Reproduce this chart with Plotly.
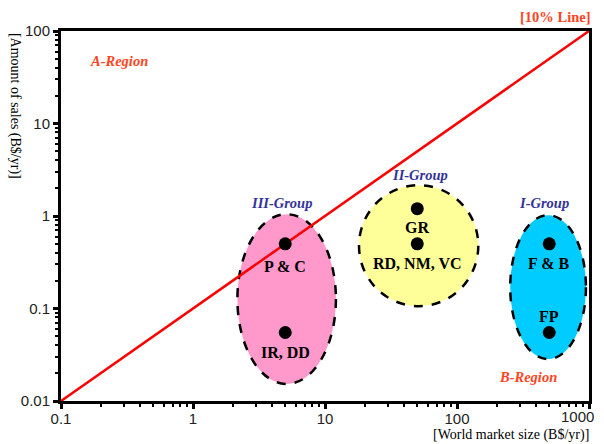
import numpy as np
import plotly.graph_objects as go

# 10% line: sales = 0.1 x market size
line_x = [0.1, 1000]
line_y = [0.01, 100]

# Individual fields
point_labels = ["P & C", "IR, DD", "GR", "RD, NM, VC", "F & B", "FP"]
market_size = [5, 5, 50, 50, 500, 500]
sales = [0.5, 0.055, 1.2, 0.5, 0.5, 0.055]

# Groups drawn as dashed ellipses (extent in data units)
group_names = ["III-Group", "II-Group", "I-Group"]
group_x_min = [2.17, 18.1, 253]
group_x_max = [12.1, 145, 948]
group_y_min = [0.0153, 0.106, 0.0284]
group_y_max = [1.045, 2.15, 1.02]

x_tick_vals = [0.1, 1, 10, 100, 1000]
x_tick_text = ["0.1", "1", "10", "100", ""]
y_tick_vals = [0.01, 0.1, 1, 10, 100]
y_tick_text = ["0.01", "0.1", "1", "10", "100"]

# styling
label_shift = [-23, -20, -19, -20, -20, 16]
group_fill = ["#ff99cc", "#ffff99", "#00ccff"]
group_label_pos = [(0.418, 0.534), (0.679, 0.610), (0.915, 0.535)]
REGION_COLOR = "#ff4422"
GROUP_COLOR = "#333399"
SERIF = "Liberation Serif, Times New Roman, serif"
SANS = "Liberation Sans, Arial, sans-serif"


def paper_text(text, x, y, font, xanchor="center", yanchor="middle", **kw):
    fig.add_annotation(text=text, xref="paper", yref="paper", x=x, y=y,
                       xanchor=xanchor, yanchor=yanchor, showarrow=False,
                       font=font, **kw)


fig = go.Figure()

fig.add_trace(go.Scatter(
    x=line_x, y=line_y, mode="lines",
    line=dict(color="#ff0000", width=2.5),
    hoverinfo="skip", showlegend=False,
))

fig.add_trace(go.Scatter(
    x=market_size, y=sales, mode="markers",
    marker=dict(color="black", size=13),
    text=point_labels, hoverinfo="text", showlegend=False,
))

for i in range(len(group_names)):
    fig.add_shape(
        type="circle", xref="x", yref="y", layer="below",
        x0=group_x_min[i], x1=group_x_max[i],
        y0=group_y_min[i], y1=group_y_max[i],
        fillcolor=group_fill[i],
        line=dict(color="black", width=2.5, dash="dash"),
    )
    gx, gy = group_label_pos[i]
    paper_text(f"<b><i>{group_names[i]}</i></b>", gx, gy,
               dict(family=SERIF, size=14.5, color=GROUP_COLOR))

for lab, xv, yv, dy in zip(point_labels, market_size, sales, label_shift):
    fig.add_annotation(
        text=f"<b>{lab}</b>", xref="x", yref="y",
        x=np.log10(xv), y=np.log10(yv), yshift=dy, showarrow=False,
        xanchor="center", yanchor="middle",
        font=dict(family=SERIF, size=16, color="black"),
    )

region_font = dict(family=SERIF, size=14.5, color=REGION_COLOR)
paper_text("<b><i>A-Region</i></b>", 0.109, 0.918, region_font)
paper_text("<b><i>B-Region</i></b>", 0.884, 0.066, region_font)
paper_text("<b>[10% Line]</b>", 1.006, 1.037, region_font, xanchor="right")

# axis titles
title_font = dict(family=SERIF, size=14, color="black")
paper_text("[Amount of sales (B$/yr)]", -0.087, 1.0, title_font,
           yanchor="top", textangle=90)
paper_text("[World market size (B$/yr)]", 1.003, -0.092, title_font,
           xanchor="right")
# last x tick label kept inside the page
paper_text("1000", 1.013, 0, dict(family=SANS, size=15, color="#222222"),
           xanchor="right", yanchor="top", yshift=-5)

axis_common = dict(
    type="log", showgrid=False, zeroline=False,
    showline=True, linecolor="black", linewidth=3, mirror=True,
    ticks="outside", ticklen=5, tickwidth=3, tickcolor="black",
    tickfont=dict(family=SANS, size=15, color="#222222"),
    tickmode="array",
    minor=dict(dtick="D1", ticks="outside", ticklen=3, tickwidth=2,
               tickcolor="black", showgrid=False),
)

fig.update_xaxes(range=[-1, 3], tickvals=x_tick_vals, ticktext=x_tick_text,
                 ticklabelstandoff=-3, **axis_common)
fig.update_yaxes(range=[-2, 2], tickvals=y_tick_vals, ticktext=y_tick_text,
                 **axis_common)

fig.update_layout(
    width=604, height=444,
    margin=dict(l=61, r=13, t=31, b=43),
    paper_bgcolor="white", plot_bgcolor="white",
    showlegend=False,
)

fig.write_html("out.html")
